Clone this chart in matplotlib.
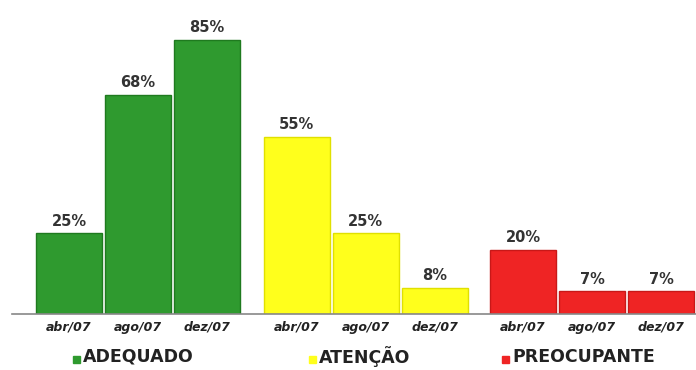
import matplotlib
matplotlib.use("Agg")
import matplotlib.pyplot as plt

periods = ["abr/07", "ago/07", "dez/07"]
groups = ["ADEQUADO", "ATENÇÃO", "PREOCUPANTE"]
adequado = [25, 68, 85]
atencao = [55, 25, 8]
preocupante = [20, 7, 7]
series = [adequado, atencao, preocupante]
fills = ["#2f9a2f", "#ffff1c", "#ef2424"]
edges = ["#1f7a1f", "#e0e000", "#c81818"]

fig = plt.figure(figsize=(6.96, 3.70), dpi=100)
ax = fig.add_axes([12 / 696, 1 - 314 / 370, 1 - 12 / 696, 314 / 370])

group_offsets = [0.0, 3.3, 6.58]
ticks, labels = [], []
for g, (vals, fc, ec) in enumerate(zip(series, fills, edges)):
    xs = [group_offsets[g] + i for i in range(len(vals))]
    ax.bar(xs, vals, width=0.955, color=fc, edgecolor=ec, linewidth=1.0, zorder=2)
    for x, v in zip(xs, vals):
        ax.text(x, v + 1.5, f"{v}%", ha="center", va="bottom", fontsize=10.5,
                fontweight="bold", color="#333333")
    ticks += xs
    labels += periods

ax.set_xlim(-0.826, 9.087)
ax.set_ylim(0, 97.5)
ax.set_xticks(ticks)
ax.set_xticklabels(labels, fontsize=9, fontstyle="italic", fontweight="bold",
                   color="#222222")
ax.tick_params(axis="x", length=0, pad=5)
ax.set_yticks([])
for side in ["top", "right", "left"]:
    ax.spines[side].set_visible(False)
ax.spines["bottom"].set_color("#888888")
ax.spines["bottom"].set_linewidth(1.2)

# legend row: a small coloured square followed by the group name
legend_x = [73, 309, 502]
y_leg = 1 - 357 / 370
for x, name, fc in zip(legend_x, groups, fills):
    fig.patches.append(plt.Rectangle((x / 696, 1 - 363 / 370), 7 / 696, 7 / 370,
                                     transform=fig.transFigure, color=fc,
                                     figure=fig))
    fig.text((x + 10) / 696, y_leg, name, color="#222222", fontsize=12.5,
             fontweight="bold", va="center", ha="left",
             family=["DejaVu Sans"])

fig.savefig("out.png", dpi=100, facecolor="white")
